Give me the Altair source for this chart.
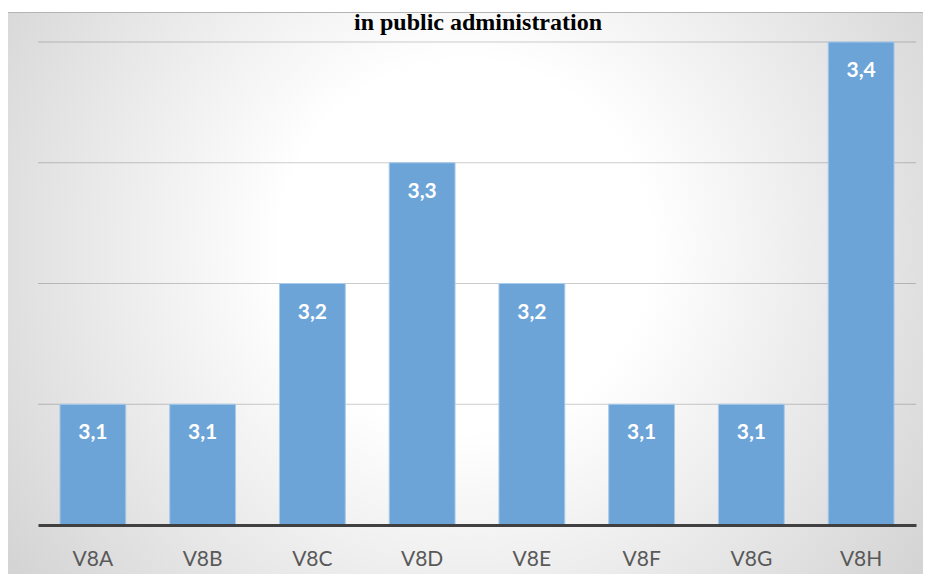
import altair as alt
import pandas as pd

# ---- data ----
categories = ["V8A", "V8B", "V8C", "V8D", "V8E", "V8F", "V8G", "V8H"]
values = [3.1, 3.1, 3.2, 3.3, 3.2, 3.1, 3.1, 3.4]
grid_values = [3.1, 3.2, 3.3, 3.4]
y_domain = [3.0, 3.4]
title_text = "in public administration"

# ---- layout (whole svg kept inside the 931x582 window with its 8px margins) ----
W, H = 878, 483
PAD = {"left": 30, "top": 34, "right": 7, "bottom": 49}

df = pd.DataFrame({"category": categories, "value": values})
grid_df = pd.DataFrame({"g": grid_values})
one = pd.DataFrame({"a": [0]})

yscale = alt.Scale(domain=y_domain, zero=False, nice=False)
xscale = alt.Scale(paddingInner=0.4, paddingOuter=0.2)

gradient = alt.RadialGradient(
    gradient="radial",
    stops=[
        alt.GradientStop(color="#ffffff", offset=0),
        alt.GradientStop(color="#ffffff", offset=0.27),
        alt.GradientStop(color="#c5c5c5", offset=1),
    ],
    x1=0.5, y1=0.45, r1=0,
    x2=0.5, y2=0.45, r2=0.75,
)

bg = alt.Chart(one).mark_rect(fill=gradient).encode(
    x=alt.value(-PAD["left"]), x2=alt.value(W + PAD["right"]),
    y=alt.value(-30), y2=alt.value(H + PAD["bottom"]),
)

top_line = alt.Chart(one).mark_rule(color="#b4b4b4", strokeWidth=1).encode(
    x=alt.value(-PAD["left"]), x2=alt.value(W + PAD["right"]), y=alt.value(-29.5)
)

grid = alt.Chart(grid_df).mark_rule(color="black", opacity=0.2, strokeWidth=1).encode(
    y=alt.Y("g:Q", scale=yscale, axis=None),
    x=alt.value(0), x2=alt.value(W),
)

xenc = alt.X(
    "category:N", sort=categories, scale=xscale,
    axis=alt.Axis(
        title=None, labelAngle=0, labelFont="Lato", labelFontSize=21,
        labelColor="#595959", ticks=False, tickSize=0, labelPadding=40,
        labelBaseline="alphabetic", domainColor="#404040", domainWidth=3,
        grid=False, zindex=1,
    ),
)

bars = alt.Chart(df).mark_bar(fill="#6DA4D8", stroke="#A9CBEB", strokeWidth=1).encode(
    x=xenc,
    y=alt.Y("value:Q", scale=yscale, axis=None),
    y2=alt.datum(y_domain[0]),
)

labels = alt.Chart(df).transform_calculate(
    label="replace(format(datum.value, '.1f'), '.', ',')"
).mark_text(
    font="Lato", fontWeight="bold", fontSize=21, color="white",
    baseline="alphabetic", dy=35,
).encode(
    x=alt.X("category:N", sort=categories, scale=xscale),
    y=alt.Y("value:Q", scale=yscale),
    text="label:N",
)

title = alt.Chart(one).mark_text(
    font="Liberation Serif", fontWeight="bold", fontSize=24, color="black",
    baseline="alphabetic", align="center",
).encode(x=alt.value(440), y=alt.value(-12), text=alt.value(title_text))

chart = alt.layer(bg, top_line, grid, bars, labels, title).properties(
    width=W, height=H, padding=PAD, autosize="none"
).configure_view(stroke=None)

chart.save("out.html", embed_options={"renderer": "svg", "actions": False})
